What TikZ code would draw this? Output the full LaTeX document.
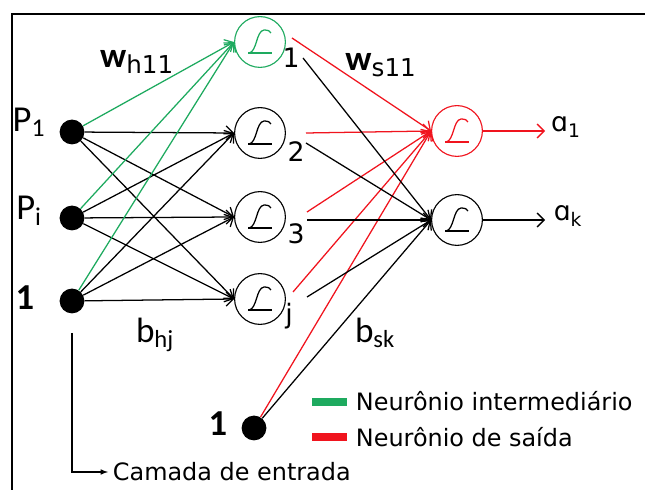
\documentclass[tikz,border=0pt]{standalone}
\usepackage{fontspec}
\setmainfont{DejaVu Sans}
\newfontfamily\calib{Carlito}
\usetikzlibrary{positioning,arrows.meta}
\definecolor{hgreen}{RGB}{30,170,95}
\definecolor{sred}{RGB}{240,20,30}
\tikzset{
  pics/sigm/.style={
    code={
        \draw[line width=0.9pt] (-12,11) -- (12,11);
        \draw[line width=0.9pt] (-11,11) .. controls (-3,10) and (-4,-11) .. (4,-12)
            .. controls (8,-12) and (10,-11) .. (11,-9);
    }
  },
  neuron/.style={draw, circle, minimum size=1.27cm, line width=0.8pt},
  inp/.style={circle, fill=black, minimum size=0.62cm, inner sep=0pt},
  plbl/.style={font=\calib\fontsize{26}{28}\selectfont},
  wlbl/.style={font=\calib\fontsize{25}{27}\selectfont},
  idx/.style={font=\fontsize{19}{21}\selectfont},
  leg/.style={font=\fontsize{17}{19}\selectfont, anchor=west},
  conn/.style={line width=0.9pt, -{Straight Barb[length=5pt,width=10pt]}}
}

\begin{document}
\begin{tikzpicture}[x=0.025cm, y=-0.025cm]
            \useasboundingbox (0,0) rectangle (645,490);
            \draw[line width=1.5pt] (12,490) -- (12,14) -- (645,14);

            % entradas
            \node[inp] (p1) at (72,132) {};
            \node[inp] (pi) at (72,218) {};
            \node[inp] (b1) at (72,301) {};
            \node[plbl] (lp1) at (29,122) {P\textsubscript{1}};
            \node[plbl] (lpi) at (29,211) {P\textsubscript{i}};
            \node[plbl] (lb1) at (25,298) {\bfseries 1};

            % camada intermediaria
            \node[neuron, hgreen] (h1) at (260,42) {};
            \pic[hgreen] at (h1) {sigm};
            \foreach \n/\y in {h2/133, h3/217, hj/299} {
                \node[neuron] (\n) at (260,\y) {};
                \pic at (\n) {sigm};
            }
            \node[idx] (t1) at (291,58) {1};
            \node[idx] (t2) at (296,152) {2};
            \node[idx] (t3) at (296,234) {3};
            \node[idx] (tj) at (289,316) {j};

            % camada de saida
            \node[neuron, sred] (o1) at (457,131) {};
            \pic[sred] at (o1) {sigm};
            \node[neuron] (ok) at (457,220) {};
            \pic at (ok) {sigm};
            \node[inp] (b2) at (254,428) {};
            \node[plbl] (lb2) at (218,424) {\bfseries 1};

            \foreach \s in {p1,pi,b1} {
                \draw[conn, hgreen] (\s) -- (h1.west);
                \foreach \t in {h2,h3,hj}
                    \draw[conn] (\s) -- (\t.west);
            }

            \coordinate (r1) at (292,38);
            \coordinate (r2) at (306,133);
            \coordinate (r3) at (307,212);
            \coordinate (rj) at (293,292);
            \coordinate (k1) at (303,58);
            \coordinate (k2) at (306,143);
            \coordinate (k3) at (307,220);
            \coordinate (kj) at (307,297);
            \foreach \s in {r1,r2,r3,rj,b2}
                \draw[conn, sred] (\s) -- (o1.west);
            \foreach \s in {k1,k2,k3,kj,b2}
                \draw[conn] (\s) -- (ok.west);

            \coordinate (a1) at (545,131);
            \coordinate (ak) at (545,220);
            \draw[conn, sred] (o1) -- (a1);
            \draw[conn] (ok) -- (ak);
            \node[idx] (la1) at (566,127) {ɑ\textsubscript{1}};
            \node[idx] (lak) at (568,216) {ɑ\textsubscript{k}};

            \node[wlbl] (wh) at (137,62) {\bfseries w\textsubscript{\normalfont h11}};
            \node[wlbl] (ws) at (381,65) {\bfseries w\textsubscript{\normalfont s11}};
            \node[wlbl] (bh) at (155,335) {b\textsubscript{hj}};
            \node[wlbl] (bs) at (375,333) {b\textsubscript{sk}};

            % legenda
            \fill[hgreen] (312,398) rectangle (347,406);
            \fill[sred] (312,433) rectangle (347,441);
            \node[leg] (lg1) at (351,401) {Neurônio intermediário};
            \node[leg] (lg2) at (351,437) {Neurônio de saída};

            \coordinate (cb) at (72,333);
            \node[leg] (cam) at (108,472) {Camada de entrada};
            \draw[-latex, line width=0.8pt] (cb) |- (cam.west);
\end{tikzpicture}
\end{document}
